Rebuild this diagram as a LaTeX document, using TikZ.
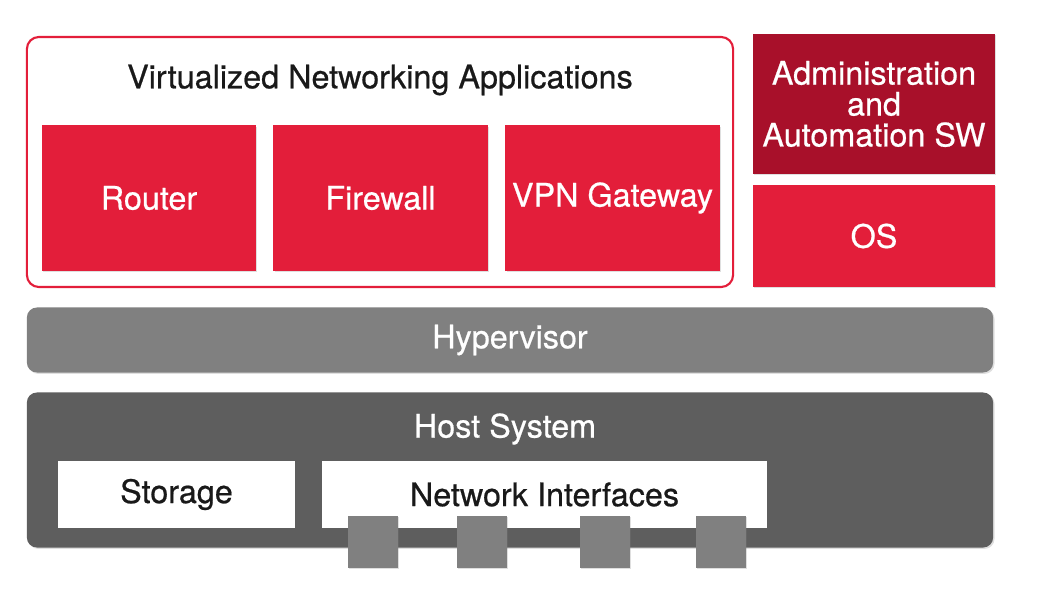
\documentclass[tikz,border=0pt]{standalone}
\usepackage{fontspec}
\setmainfont{TeX Gyre Heros}[BoldFont={TeX Gyre Heros},BoldFeatures={FakeBold=0.6}]
\usetikzlibrary{shadows}
\definecolor{appred}{HTML}{E31E3A}
\definecolor{admred}{HTML}{A8102A}
\definecolor{hypgray}{HTML}{808080}
\definecolor{hostgray}{HTML}{5E5E5E}
\newcommand{\boxfont}{\fontsize{23}{22}\selectfont\bfseries}
\tikzset{
  px/.style={x=0.025cm,y=-0.025cm},
  shade box/.style={drop shadow={opacity=0.25,shadow xshift=1pt,shadow yshift=-1pt}},
  app/.style={fill=appred,text=white,font=\boxfont,
    minimum width=5.35cm,minimum height=3.625cm,inner sep=0pt,shade box},
  layer/.style={rounded corners=0.25cm,minimum width=24.15cm,inner sep=0pt,shade box},
  port/.style={fill=hypgray,minimum width=1.25cm,minimum height=1.3cm,inner sep=0pt,shade box},
  inner box/.style={fill=white,text=black!90,font=\boxfont,minimum height=1.675cm,inner sep=0pt}
}
\begin{document}
\begin{tikzpicture}[px]
  \useasboundingbox (0,0) rectangle (1060,599);
  % applications
  \node[draw=appred,line width=1.5pt,rounded corners=0.3cm,minimum width=17.65cm,minimum height=6.25cm,fill=white] (apps) at (380,162) {};
  \node[font=\boxfont,text=black!90] (appstitle) at (380,80) {Virtualized Networking Applications};
  \node[app] (router) at (149,198) {Router};
  \node[app] (firewall) at (380.5,198) {Firewall};
  \node[app] (vpn) at (612.5,198) {VPN Gateway};
  % management side
  \node[app,fill=admred,minimum width=6.05cm,minimum height=3.5cm,align=center] (admin) at (874,104) {Administration\\and\\Automation SW};
  \node[app,minimum width=6.05cm,minimum height=2.55cm] (os) at (874,236) {OS};
  % hypervisor
  \node[layer,fill=hypgray,minimum height=1.625cm,text=white,font=\boxfont] (hyp) at (510,340) {Hypervisor};
  % host system
  \node[layer,fill=hostgray,minimum height=3.875cm] (host) at (510,470) {};
  \node[text=white,font=\boxfont] (hosttitle) at (505,429) {Host System};
  \node[inner box,minimum width=5.925cm] (storage) at (176.5,494.5) {Storage};
  \node[inner box,minimum width=11.125cm] (nics) at (544.5,494.5) {Network Interfaces};
  \foreach \x [count=\i] in {373,482,605,721}
    \node[port] (port\i) at (\x,542) {};
\end{tikzpicture}
\end{document}
